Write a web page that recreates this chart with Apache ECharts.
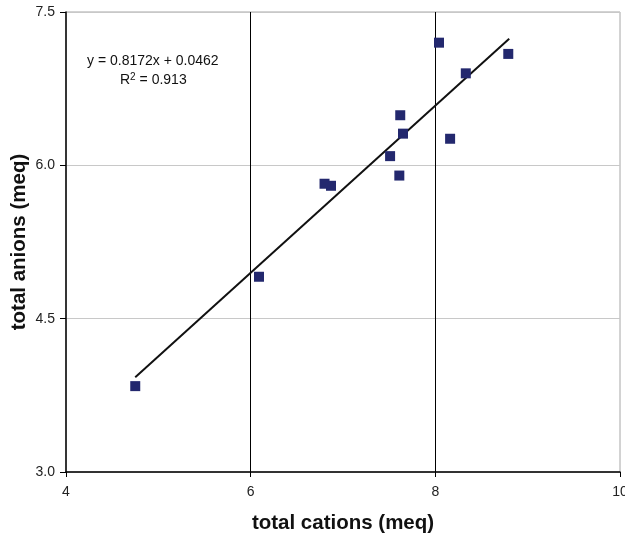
<!DOCTYPE html>
<html lang="en">
<head>
    <meta charset="UTF-8">
    <title>total anions vs total cations</title>
    <script src="https://cdn.jsdelivr.net/npm/echarts@6/dist/echarts.min.js"></script>
    <style>
        body{ margin:0; background:#fff; }
        #chart{ width:625px; height:540px; }
    </style>
</head>
<body>
<div id="chart"></div>
<script>
    // measured points (meq)
    var cations = [4.75, 6.09, 6.80, 6.87, 7.51, 7.61, 7.62, 7.65, 8.04, 8.16, 8.33, 8.79];
    var anions  = [3.84, 4.91, 5.82, 5.80, 6.09, 5.90, 6.49, 6.31, 7.20, 6.26, 6.90, 7.09];
    // linear trend line: y = slope*x + intercept
    var slope = 0.8172, intercept = 0.0462;
    var trendX = [4.75, 8.8];
    var xTicks = [4, 6, 8, 10];
    var yTicks = [3.0, 4.5, 6.0, 7.5];

    var pts = [];
    for(var i=0;i<cations.length;i++){ pts.push([cations[i], anions[i]]); }
    var trend = trendX.map(function(x){ return [x, slope*x + intercept]; });

    var font = 'Liberation Sans, Arial, sans-serif';
    var chart = echarts.init(document.getElementById('chart'));
    chart.setOption({
        animation:false,
        grid:{ left:66, right:5, top:12, bottom:68, show:true, borderColor:'#a6a6a6', borderWidth:1,
               containLabel:false, outerBoundsMode:'none' },
        xAxis:{
            type:'value', min:xTicks[0], max:xTicks[xTicks.length-1], interval:2,
            name:'total cations (meq)', nameLocation:'middle', nameGap:41, nameMoveOverlap:false,
            nameTextStyle:{ fontFamily:font, fontSize:20.5, fontWeight:'bold', color:'#111' },
            axisLine:{ show:true, lineStyle:{ color:'#000', width:1.5 } },
            axisTick:{ show:true, length:5, lineStyle:{ color:'#000' } },
            axisLabel:{ fontFamily:font, fontSize:14, color:'#222', margin:13 },
            splitLine:{ show:true, showMinLine:false, showMaxLine:false, lineStyle:{ color:'#000', width:1 } }
        },
        yAxis:{
            type:'value', min:yTicks[0], max:yTicks[yTicks.length-1], interval:1.5,
            name:'total anions (meq)', nameLocation:'middle', nameGap:36, nameMoveOverlap:false,
            nameTextStyle:{ fontFamily:font, fontSize:20.5, fontWeight:'bold', color:'#111' },
            axisLine:{ show:true, lineStyle:{ color:'#000', width:1.5 } },
            axisTick:{ show:true, length:6, lineStyle:{ color:'#000' } },
            axisLabel:{ fontFamily:font, fontSize:14, color:'#222', margin:11,
                formatter:function(v){ return v.toFixed(1); } },
            splitLine:{ show:true, lineStyle:{ color:'#c8c8c8', width:1 } }
        },
        graphic:[{
            type:'text', left:87, top:54,
            style:{ text:'y = 0.8172x + 0.0462', font:'14px ' + font, fill:'#111' }
        },{
            type:'text', left:120, top:72,
            style:{
                text:'R{s|2} = 0.913',
                font:'14px ' + font, fill:'#111',
                rich:{ s:{ fontSize:10, fontFamily:font, verticalAlign:'top', padding:[0,0,6,0] } }
            }
        }],
        series:[{
            type:'scatter', data:pts, symbol:'rect', symbolSize:10,
            itemStyle:{ color:'#23286e', opacity:1 }, z:3
        },{
            type:'line', data:trend, showSymbol:false, symbol:'none',
            lineStyle:{ color:'#111', width:2 }, z:2
        }]
    });
</script>
</body>
</html>
